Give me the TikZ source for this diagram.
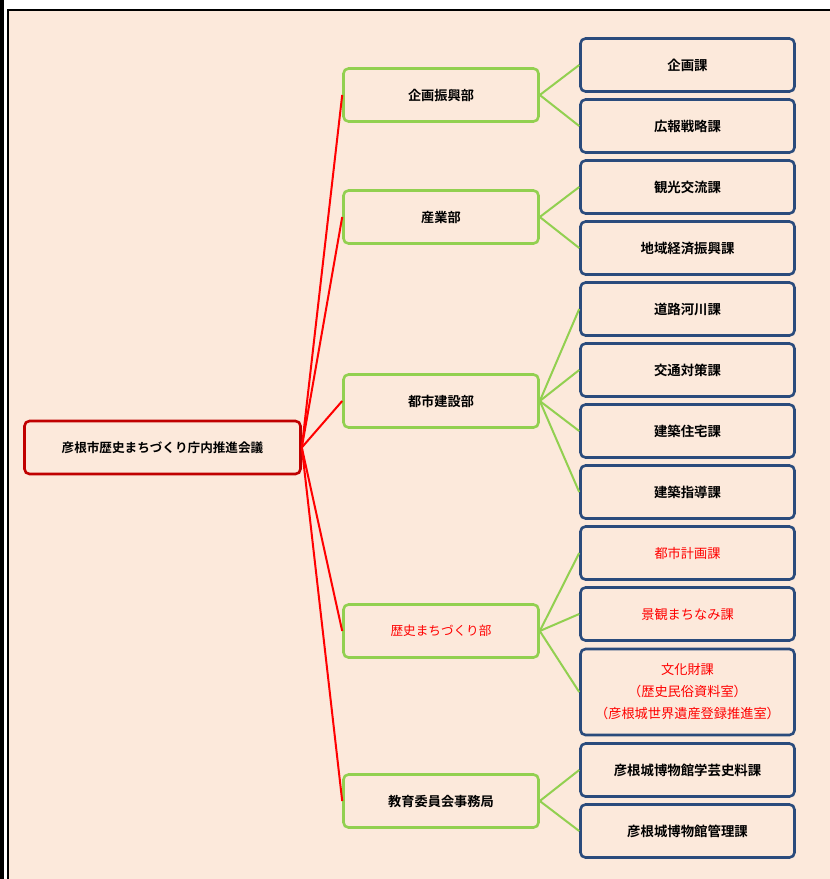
\documentclass[tikz,border=0pt]{standalone}
\usepackage{fontspec}
\setmainfont{Noto Sans CJK JP}[BoldFont={* Bold}]
\usepackage{tikz}
\usetikzlibrary{positioning}

\definecolor{paper}{HTML}{FCE9DB}
\definecolor{darkred}{HTML}{C00000}
\definecolor{leaf}{HTML}{92D050}
\definecolor{navy}{HTML}{2A4B7C}

\begin{document}
\begin{tikzpicture}[x=1pt, y=-1pt, on grid, node distance = 61pt,
		box/.style = {rectangle, rounded corners=5pt, line width=2.6pt, fill=paper,
			minimum height=53pt, font=\fontsize{13.4}{22}\selectfont\bfseries, align=center},
		council/.style = {box, draw=darkred, minimum width=276pt, font=\fontsize{12.6}{22}\selectfont\bfseries},
		dept/.style = {box, draw=leaf, minimum width=195pt, font=\fontsize{13.2}{22}\selectfont\bfseries},
		sect/.style = {box, draw=navy, minimum width=214pt},
		hist/.style = {text=red, font=\fontsize{13.2}{22}\selectfont\mdseries},
		redline/.style = {draw=red, line width=2pt},
		greenline/.style = {draw=leaf, line width=2pt}]
		\useasboundingbox (0,0) rectangle (830,879);
		\fill[paper] (7.7,9.7) rectangle (840,890);
		\draw[line width=1.8pt] (7.7,9.7) rectangle (840,890);
		\fill (0,0) rectangle (3.7,879);
		
		\node[council] (R) at (162.5,447.5) {彦根市歴史まちづくり庁内推進会議};
		
		\node[sect] (S1) at (687.5,65) {企画課};
		\node[sect, below = of S1] (S2) {広報戦略課};
		\node[sect, below = of S2] (S3) {観光交流課};
		\node[sect, below = of S3] (S4) {地域経済振興課};
		\node[sect, below = of S4] (S5) {道路河川課};
		\node[sect, below = of S5] (S6) {交通対策課};
		\node[sect, below = of S6] (S7) {建築住宅課};
		\node[sect, below = of S7] (S8) {建築指導課};
		\node[sect, below = of S8, hist] (S9) {都市計画課};
		\node[sect, below = of S9, hist] (S10) {景観まちなみ課};
		\node[sect, below = 78pt of S10, hist, minimum height=86pt] (S11)
			{文化財課\\（歴史民俗資料室）\\（彦根城世界遺産登録推進室）};
		\node[sect, below = 78pt of S11] (S12) {彦根城博物館学芸史料課};
		\node[sect, below = of S12] (S13) {彦根城博物館管理課};
		
		\node[dept] (D1) at (441,95) {企画振興部};
		\node[dept] (D2) at (441,217) {産業部};
		\node[dept] (D3) at (441,401) {都市建設部};
		\node[dept, hist, font=\fontsize{12.6}{22}\selectfont\mdseries] (D4) at (441,631) {歴史まちづくり部};
		\node[dept] (D5) at (441,801) {教育委員会事務局};
		
		\path[redline] (R.east) edge (D1.west)
		(R.east) edge (D2.west)
		(R.east) edge (D3.west)
		(R.east) edge (D4.west)
		(R.east) edge (D5.west);
		
		\path[greenline] (D1.east) edge (S1.west)
		(D1.east) edge (S2.west)
		(D2.east) edge (S3.west)
		(D2.east) edge (S4.west)
		(D3.east) edge (S5.west)
		(D3.east) edge (S6.west)
		(D3.east) edge (S7.west)
		(D3.east) edge (S8.west)
		(D4.east) edge (S9.west)
		(D4.east) edge (S10.west)
		(D4.east) edge (S11.west)
		(D5.east) edge (S12.west)
		(D5.east) edge (S13.west);
		
		\end{tikzpicture}
\end{document}
